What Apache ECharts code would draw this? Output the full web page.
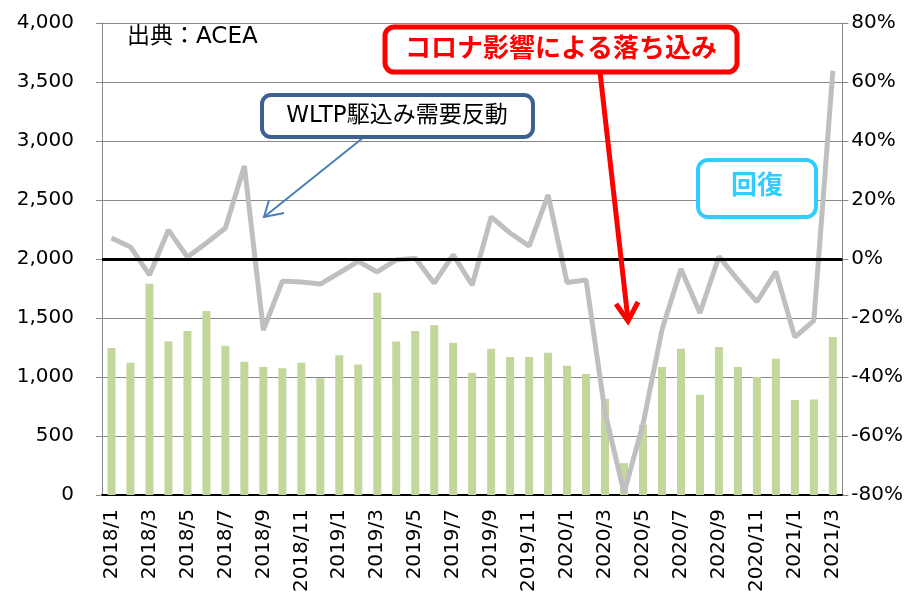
<!DOCTYPE html>
<html>
<head>
<meta charset="utf-8">
<script src="https://cdn.jsdelivr.net/npm/echarts@6/dist/echarts.min.js"></script>
<style>
  html, body { margin: 0; padding: 0; background: #fff; }
  #chart { width: 906px; height: 597px; }
</style>
</head>
<body>
<div id="chart"></div>
<script>
// months 2018/1 .. 2021/3
const months = [
  '2018/1', '2018/2', '2018/3', '2018/4', '2018/5', '2018/6', '2018/7', '2018/8', '2018/9', '2018/10', '2018/11', '2018/12',
  '2019/1', '2019/2', '2019/3', '2019/4', '2019/5', '2019/6', '2019/7', '2019/8', '2019/9', '2019/10', '2019/11', '2019/12',
  '2020/1', '2020/2', '2020/3', '2020/4', '2020/5', '2020/6', '2020/7', '2020/8', '2020/9', '2020/10', '2020/11', '2020/12',
  '2021/1', '2021/2', '2021/3',
];

// registrations (left axis)
const sales = [
  1245, 1120, 1790, 1300, 1390, 1560, 1265, 1130, 1085, 1075, 1120, 990,
  1185, 1105, 1715, 1300, 1390, 1440, 1290, 1035, 1240, 1170, 1170, 1205,
  1095, 1025, 815, 270, 595, 1085, 1240, 850, 1255, 1085, 1000, 1155,
  805, 810, 1340,
];

// year-on-year change, % (right axis)
const yoy = [
  7.1, 4.1, -5.4, 9.8, 0.7, 5.4, 10.5, 31.5, -24.1, -7.5, -7.8, -8.5,
  -4.7, -0.8, -4.4, -0.3, 0.3, -8.2, 1.4, -8.8, 14.3, 8.8, 4.4, 21.7,
  -8.0, -7.1, -52, -79.3, -56, -24, -3.4, -18.3, 0.8, -7.1, -14.5, -4.3,
  -26.5, -20.9, 63.8,
];

const font = "'DejaVu Sans', 'Noto Sans CJK JP', sans-serif";
const gridColor = '#888888';

const chart = echarts.init(document.getElementById('chart'));
chart.setOption({
  animation: false,
  textStyle: { fontFamily: font },
  grid: { left: 102, right: 63, top: 23, bottom: 102 },
  xAxis: {
    type: 'category',
    data: months,
    axisLine: { lineStyle: { color: '#000', width: 2 } },
    axisTick: { show: false },
    axisLabel: {
      interval: 1,
      rotate: 90,
      margin: 14,
      color: '#000',
      fontSize: 20,
      fontFamily: font,
    },
  },
  yAxis: [
    {
      type: 'value',
      min: 0,
      max: 4000,
      interval: 500,
      axisLine: { show: true, lineStyle: { color: gridColor } },
      axisTick: { show: true, length: 6, lineStyle: { color: gridColor } },
      splitLine: { lineStyle: { color: gridColor, width: 1 } },
      axisLabel: {
        margin: 28,
        color: '#000',
        fontSize: 20,
        fontFamily: font,
        formatter: (v) => v.toLocaleString('en-US'),
      },
    },
    {
      type: 'value',
      min: -80,
      max: 80,
      interval: 20,
      axisLine: { show: true, lineStyle: { color: gridColor } },
      axisTick: { show: true, length: 6, lineStyle: { color: gridColor } },
      splitLine: { show: false },
      axisLabel: {
        margin: 9,
        color: '#000',
        fontSize: 20,
        fontFamily: font,
        formatter: (v) => v + '%',
      },
    },
  ],
  series: [
    {
      name: 'sales',
      type: 'bar',
      data: sales,
      barWidth: 8,
      itemStyle: { color: '#c3d69b' },
    },
    {
      name: 'yoy',
      type: 'line',
      yAxisIndex: 1,
      data: yoy,
      symbol: 'none',
      lineStyle: { color: '#bfbfbf', width: 5 },
      z: 3,
      markLine: {
        silent: true,
        symbol: 'none',
        label: { show: false },
        lineStyle: { color: '#000', width: 3, type: 'solid' },
        data: [{ yAxis: 0 }],
      },
    },
  ],
  graphic: [
    {
      type: 'text',
      left: 127,
      top: 26,
      style: { text: '出典：ACEA', font: '23px ' + font, fill: '#000' },
    },
    // WLTP note
    {
      type: 'line',
      z: 50,
      shape: { x1: 364, y1: 137, x2: 264, y2: 217 },
      style: { stroke: '#4a7ebb', lineWidth: 2 },
    },
    {
      type: 'polyline',
      z: 50,
      shape: { points: [[269, 200], [264, 217], [284, 213]] },
      style: { stroke: '#4a7ebb', lineWidth: 2, fill: null },
    },
    {
      type: 'rect',
      z: 50,
      shape: { x: 262, y: 95, width: 271, height: 42, r: 9 },
      style: { fill: '#fff', stroke: '#3c6190', lineWidth: 4 },
    },
    {
      type: 'text',
      z: 51,
      x: 397,
      y: 116,
      style: {
        text: 'WLTP駆込み需要反動',
        font: '23px ' + font,
        fill: '#000',
        align: 'center',
        verticalAlign: 'middle',
      },
    },
    // corona note
    {
      type: 'line',
      z: 50,
      shape: { x1: 600, y1: 72, x2: 628, y2: 320 },
      style: { stroke: '#ff0000', lineWidth: 5 },
    },
    {
      type: 'polyline',
      z: 50,
      shape: { points: [[616, 304], [628, 321], [638, 302]] },
      style: { stroke: '#ff0000', lineWidth: 5, fill: null },
    },
    {
      type: 'rect',
      z: 50,
      shape: { x: 385, y: 27, width: 352, height: 45, r: 9 },
      style: { fill: '#fff', stroke: '#ff0000', lineWidth: 5 },
    },
    {
      type: 'text',
      z: 51,
      x: 561,
      y: 50,
      style: {
        text: 'コロナ影響による落ち込み',
        font: 'bold 26px ' + font,
        fill: '#ff0000',
        align: 'center',
        verticalAlign: 'middle',
      },
    },
    // recovery note
    {
      type: 'rect',
      z: 50,
      shape: { x: 698, y: 160, width: 118, height: 57, r: 10 },
      style: { fill: '#fff', stroke: '#33ccff', lineWidth: 4 },
    },
    {
      type: 'text',
      z: 51,
      x: 757,
      y: 187,
      style: {
        text: '回復',
        font: 'bold 26px ' + font,
        fill: '#33ccff',
        align: 'center',
        verticalAlign: 'middle',
      },
    },
  ],
});
</script>
</body>
</html>
